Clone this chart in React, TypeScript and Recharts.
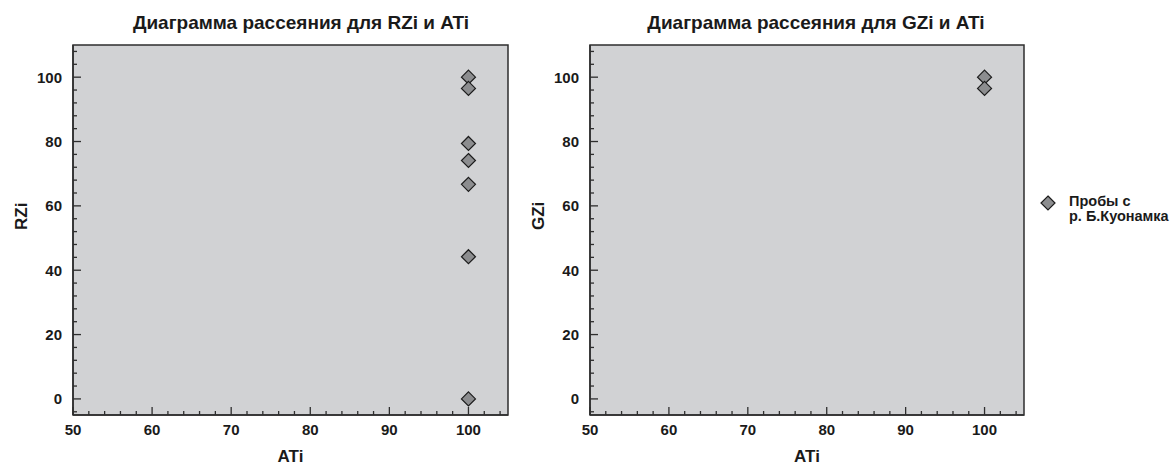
import { CartesianGrid, ReferenceArea, Scatter, ScatterChart, XAxis, YAxis } from 'recharts';

// x values (ATi) and y values for each panel
const atiForRZ = [100, 100, 100, 100, 100, 100, 100];
const rzi = [100, 96.5, 79.4, 74.1, 66.7, 44.2, 0];
const atiForGZ = [100, 100];
const gzi = [100, 96.5];

const xTicks = [50, 52, 54, 56, 58, 60, 62, 64, 66, 68, 70, 72, 74, 76, 78, 80, 82, 84, 86, 88, 90, 92, 94, 96, 98, 100, 102, 104];
const yTicks = [-4, 0, 4, 8, 12, 16, 20, 24, 28, 32, 36, 40, 44, 48, 52, 56, 60, 64, 68, 72, 76, 80, 84, 88, 92, 96, 100, 104, 108];
const xMajor = [50, 60, 70, 80, 90, 100];
const yMajor = [0, 20, 40, 60, 80, 100];

const legendLines = ['Пробы с', 'р. Б.Куонамка'];

const FONT = '"Liberation Sans", Arial, sans-serif';
const AXIS = '#2e2e2e';
const PLOT_BG = '#d1d2d4';
const MARK_FILL = '#8c8d8f';
const MARK_STROKE = '#1c1c1c';
const TICK_MARGIN = 10;

function YTick(props: any) {
  const { x, y, payload } = props;
  const axisX = x + TICK_MARGIN;
  const major = yMajor.includes(payload.value);
  return (
    <g>
      <line x1={axisX} x2={axisX + (major ? 8 : 4)} y1={y} y2={y} stroke={AXIS} strokeWidth={1.3} />
      {major && (
        <text x={x - 1} y={y} dy="0.36em" textAnchor="end" fontFamily={FONT} fontWeight="bold" fontSize={15} fill="#1a1a1a">
          {payload.value}
        </text>
      )}
    </g>
  );
}

function XTick(props: any) {
  const { x, y, payload } = props;
  const axisY = y - TICK_MARGIN;
  const major = xMajor.includes(payload.value);
  return (
    <g>
      <line x1={x} x2={x} y1={axisY} y2={axisY - (major ? 8 : 4)} stroke={AXIS} strokeWidth={1.3} />
      {major && (
        <text x={x} y={y} dy="0.68em" textAnchor="middle" fontFamily={FONT} fontWeight="bold" fontSize={15} fill="#1a1a1a">
          {payload.value}
        </text>
      )}
    </g>
  );
}

function Diamond(props: any) {
  const { cx, cy } = props;
  if (cx == null || cy == null) return null;
  const r = 7;
  return (
    <polygon
      points={`${cx},${cy - r} ${cx + r},${cy} ${cx},${cy + r} ${cx - r},${cy}`}
      fill={MARK_FILL}
      stroke={MARK_STROKE}
      strokeWidth={1.2}
    />
  );
}

interface PanelProps {
  xs: number[];
  ys: number[];
  yName: string;
  title: string;
  left: number;
  width: number;
  yAxisWidth: number;
  rightMargin: number;
  titleX: number;
  yLabelX: number;
}

function Panel({ xs, ys, yName, title, left, width, yAxisWidth, rightMargin, titleX, yLabelX }: PanelProps) {
  const data = xs.map((x, i) => ({ x, y: ys[i] }));
  return (
    <div style={{ position: 'absolute', left, top: 0, width, height: 466 }}>
      <ScatterChart width={width} height={466} margin={{ top: 45, right: rightMargin, bottom: 0, left: 0 }}>
        <CartesianGrid fill={PLOT_BG} horizontal={false} vertical={false} />
        <XAxis
          type="number"
          dataKey="x"
          domain={[50, 105]}
          ticks={xTicks}
          interval={0}
          height={51}
          tickSize={0}
          tickMargin={TICK_MARGIN}
          tickLine={false}
          axisLine={{ stroke: AXIS, strokeWidth: 1.5 }}
          tick={<XTick />}
          label={{ value: 'ATi', position: 'insideBottom', offset: 4, fontFamily: FONT, fontWeight: 'bold', fontSize: 17, fill: '#1a1a1a' }}
        />
        <YAxis
          type="number"
          dataKey="y"
          domain={[-5, 110]}
          ticks={yTicks}
          interval={0}
          width={yAxisWidth}
          tickSize={0}
          tickMargin={TICK_MARGIN}
          tickLine={false}
          axisLine={{ stroke: AXIS, strokeWidth: 1.5 }}
          tick={<YTick />}
          label={{ value: yName, angle: -90, position: 'insideLeft', offset: yLabelX, fontFamily: FONT, fontWeight: 'bold', fontSize: 17, fill: '#1a1a1a' }}
        />
        <ReferenceArea x1={50} x2={105} y1={-5} y2={110} fill="none" stroke={AXIS} strokeWidth={1.5} />
        <Scatter data={data} shape={<Diamond />} isAnimationActive={false} />
      </ScatterChart>
      <div
        style={{
          position: 'absolute',
          left: titleX - 250,
          width: 500,
          top: 12,
          textAlign: 'center',
          fontFamily: FONT,
          fontWeight: 'bold',
          fontSize: 19,
          lineHeight: '22px',
          color: '#1a1a1a',
        }}
      >
        {title}
      </div>
    </div>
  );
}

export default function App() {
  return (
    <div style={{ position: 'absolute', left: 0, top: 0, width: 1172, height: 466, background: '#fff', overflow: 'hidden' }}>
      <Panel xs={atiForRZ} ys={rzi} yName="RZi" title="Диаграмма рассеяния для RZi и ATi" left={0} width={520} yAxisWidth={73} rightMargin={12} titleX={301} yLabelX={21} />
      <Panel xs={atiForGZ} ys={gzi} yName="GZi" title="Диаграмма рассеяния для GZi и ATi" left={520} width={652} yAxisWidth={70} rightMargin={148} titleX={296} yLabelX={18} />
      <div style={{ position: 'absolute', left: 1040, top: 194, display: 'flex', alignItems: 'flex-start' }}>
        <svg width={16} height={16} style={{ marginTop: 1 }}>
          <polygon points="8,1 15,8 8,15 1,8" fill={MARK_FILL} stroke={MARK_STROKE} strokeWidth={1.2} />
        </svg>
        <div style={{ marginLeft: 13, fontFamily: FONT, fontWeight: 'bold', fontSize: 14.5, lineHeight: '15px', color: '#1a1a1a' }}>
          {legendLines.map((l) => (
            <div key={l}>{l}</div>
          ))}
        </div>
      </div>
    </div>
  );
}
